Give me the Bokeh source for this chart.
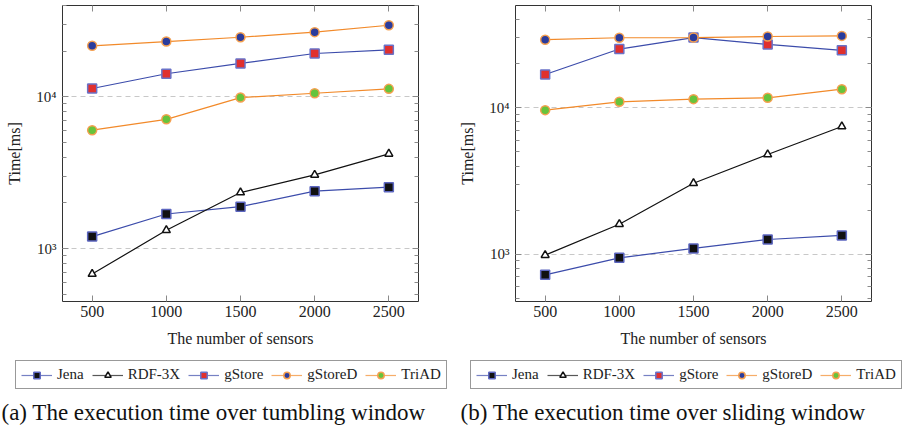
from bokeh.plotting import figure
from bokeh.models import (FixedTicker, LogAxis, LinearAxis, Legend, LegendItem,
                          Label, Range1d)
from bokeh.layouts import row, column
from bokeh.embed import file_html
from bokeh.resources import INLINE

# ---- data ----
sensors = [500, 1000, 1500, 2000, 2500]
series_names = ["Jena", "RDF-3X", "gStore", "gStoreD", "TriAD"]

# (a) tumbling window
jena_a = [1200, 1690, 1890, 2390, 2540]
rdf_a = [680, 1320, 2340, 3060, 4210]
gstore_a = [11350, 14200, 16600, 19300, 20400]
gstored_a = [21700, 23150, 24700, 26700, 29650]
triad_a = [6030, 7110, 9890, 10560, 11290]

# (b) sliding window
jena_b = [723, 944, 1094, 1260, 1343]
rdf_b = [985, 1603, 3050, 4800, 7450]
gstore_b = [16900, 25200, 30200, 27100, 24700]
gstored_b = [29200, 30100, 30200, 30700, 31000]
triad_b = [9640, 10990, 11460, 11700, 13400]

x_ticks = [500, 1000, 1500, 2000, 2500]
y_major = [1000, 10000]
y_major_labels = {1000: "10³", 10000: "10⁴"}
y_minor = [500, 600, 700, 800, 900, 2000, 3000, 4000, 5000, 6000, 7000, 8000,
           9000, 20000, 30000, 40000]

captions = ["(a) The execution time over tumbling window",
            "(b) The execution time over sliding window"]

FONT = "Liberation Serif"
BLUE = "#3c4cab"
ORANGE = "#f28a2a"
TICK = "#8a8a8a"

styles = {
    "Jena": dict(line=BLUE, marker="square", fill="#111111", mline="#5c66c0", size=9),
    "RDF-3X": dict(line="#111111", marker="triangle", fill="white", mline="#111111", size=8),
    "gStore": dict(line=BLUE, marker="square", fill="#e0302e", mline="#6a72c8", size=9),
    "gStoreD": dict(line=ORANGE, marker="circle", fill="#2b3c9c", mline="#f5a050", size=9),
    "TriAD": dict(line=ORANGE, marker="circle", fill="#66c43c", mline="#f5a050", size=9),
}

MAIN_H = 353
FOOT_H = 425 - MAIN_H


def make_panel(data, yrange, width, left, right):
    p = figure(width=width, height=MAIN_H, x_range=Range1d(300, 2700),
               y_range=Range1d(*yrange), y_axis_type="log",
               output_backend="svg", toolbar_location=None,
               min_border_left=left, min_border_right=right,
               min_border_top=5, min_border_bottom=52)
    p.outline_line_color = "#333333"
    p.outline_line_width = 1

    xa = p.xaxis[0]
    xa.ticker = FixedTicker(ticks=x_ticks)
    xa.axis_label = "The number of sensors"
    ya = p.yaxis[0]
    ya.ticker = FixedTicker(ticks=y_major, minor_ticks=y_minor)
    ya.major_label_overrides = y_major_labels
    ya.axis_label = "Time[ms]"
    for ax in (xa, ya):
        ax.axis_line_color = None
        ax.major_tick_in = 6
        ax.major_tick_out = 0
        ax.minor_tick_in = 4
        ax.minor_tick_out = 0
        ax.major_tick_line_color = TICK
        ax.minor_tick_line_color = TICK
        ax.axis_label_text_font = FONT
        ax.axis_label_text_font_style = "normal"
        ax.axis_label_text_font_size = "16px"
        ax.axis_label_text_color = "#222222"
        ax.major_label_text_font = FONT
        ax.major_label_text_color = "#222222"
    xa.major_label_text_font_size = "16px"
    xa.major_label_standoff = 4
    xa.axis_label_standoff = 10
    ya.major_label_text_font_size = "15px"
    ya.major_label_standoff = 6
    ya.axis_label_standoff = 10

    top = LinearAxis(ticker=FixedTicker(ticks=x_ticks), axis_line_color=None,
                     major_tick_in=6, major_tick_out=0, minor_tick_in=0, minor_tick_out=0,
                     major_tick_line_color=TICK, major_label_text_font_size="1px",
                     major_label_text_alpha=0, major_label_standoff=0)
    p.add_layout(top, "above")
    rax = LogAxis(ticker=FixedTicker(ticks=y_major, minor_ticks=y_minor),
                  axis_line_color=None, major_tick_in=6, major_tick_out=0,
                  minor_tick_in=4, minor_tick_out=0,
                  major_tick_line_color=TICK, minor_tick_line_color=TICK,
                  major_label_text_font_size="1px", major_label_text_alpha=0,
                  major_label_standoff=0)
    p.add_layout(rax, "right")

    p.xgrid.visible = False
    p.ygrid.ticker = FixedTicker(ticks=y_major)
    p.ygrid.grid_line_color = "#c8c8c8"
    p.ygrid.grid_line_dash = "5 4"
    p.ygrid.grid_line_width = 1

    for name in series_names:
        st = styles[name]
        p.line(sensors, data[name], line_color=st["line"], line_width=1.2)
        p.scatter(sensors, data[name], marker=st["marker"], size=st["size"],
                  fill_color=st["fill"], line_color=st["mline"], line_width=1.5)
    return p


def make_footer(width):
    f = figure(width=width, height=FOOT_H, x_range=Range1d(0, 1), y_range=Range1d(0, 1),
               x_axis_type=None, y_axis_type=None, output_backend="svg",
               toolbar_location=None, min_border=0)
    f.outline_line_color = None
    f.grid.visible = False
    nan = float("nan")
    for legend_x, caption, cap_x in ((15, captions[0], 1), (470, captions[1], 460)):
        items = []
        for name in series_names:
            st = styles[name]
            lr = f.line([nan], [nan], line_color=st["line"], line_width=1.2, line_alpha=0.7)
            sr = f.scatter([nan], [nan], marker=st["marker"], size=st["size"] - 1,
                           fill_color=st["fill"], line_color=st["mline"], line_width=1.5)
            items.append(LegendItem(label=name, renderers=[lr, sr]))
        leg = Legend(items=items, orientation="horizontal", location=(legend_x, 36),
                     label_text_font=FONT, label_text_font_size="15px",
                     label_text_color="#222222",
                     glyph_width=31, glyph_height=16, label_standoff=5, spacing=8,
                     padding=5, margin=0, border_line_color="#333333",
                     border_line_width=1, background_fill_alpha=1)
        f.add_layout(leg, "center")
        lab = Label(x=cap_x, y=13, x_units="screen", y_units="screen", text=caption,
                    text_font=FONT, text_font_size="23px", text_color="#111111",
                    text_baseline="alphabetic", text_align="left")
        f.add_layout(lab)
    return f


data_a = {"Jena": jena_a, "RDF-3X": rdf_a, "gStore": gstore_a,
          "gStoreD": gstored_a, "TriAD": triad_a}
data_b = {"Jena": jena_b, "RDF-3X": rdf_b, "gStore": gstore_b,
          "gStoreD": gstored_b, "TriAD": triad_b}

p1 = make_panel(data_a, (448, 40000), 456, 62, 38)
p2 = make_panel(data_b, (475, 50000), 450, 58, 35)
foot = make_footer(906)

layout = column(row(p1, p2), foot)
open("out.html", "w").write(file_html(layout, INLINE))
